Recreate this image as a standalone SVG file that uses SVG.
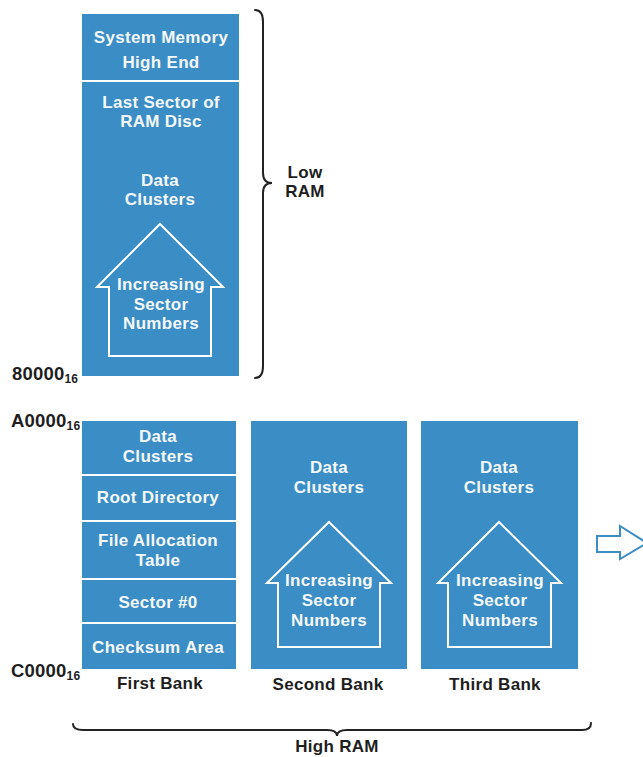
<svg xmlns="http://www.w3.org/2000/svg" width="643" height="757" viewBox="0 0 643 757">
<style>
.blk{fill:#3a8dc5}
.div{stroke:#ffffff;stroke-width:2}
.wt{font-family:"Liberation Sans",Arial,sans-serif;font-weight:bold;font-size:17px;fill:#f4f8fb;text-anchor:middle;letter-spacing:0.3px}
.lb{font-family:"Liberation Sans",Arial,sans-serif;font-weight:bold;font-size:17px;fill:#1e1e1e;text-anchor:middle;letter-spacing:0.3px}
.ad{font-family:"Liberation Sans",Arial,sans-serif;font-weight:bold;font-size:18.5px;fill:#1e1e1e;letter-spacing:0.2px}
.sub{font-size:12px}
.house{fill:none;stroke:#ffffff;stroke-width:2;stroke-linejoin:miter}
.brace{fill:none;stroke:#222222;stroke-width:2;stroke-linecap:round}
</style>
<rect width="643" height="757" fill="#ffffff"/>

<g id="low-ram-column">
<rect class="blk" x="82" y="14" width="157" height="362"/>
<line class="div" x1="82" y1="81" x2="239" y2="81"/>
<text class="wt" x="161" y="43">System Memory</text>
<text class="wt" x="161" y="68">High End</text>
<text class="wt" x="161" y="108">Last Sector of</text>
<text class="wt" x="161" y="127">RAM Disc</text>
<text class="wt" x="160" y="186">Data</text>
<text class="wt" x="160" y="205">Clusters</text>
<polygon class="house" points="160,224 223,287 211,287 211,356 109,356 109,287 97,287"/>
<text class="wt" x="161" y="290">Increasing</text>
<text class="wt" x="161" y="310">Sector</text>
<text class="wt" x="161" y="329">Numbers</text>
</g>

<g id="first-bank">
<rect class="blk" x="82" y="421" width="154" height="248"/>
<line class="div" x1="82" y1="475" x2="236" y2="475"/>
<line class="div" x1="82" y1="521" x2="236" y2="521"/>
<line class="div" x1="82" y1="579" x2="236" y2="579"/>
<line class="div" x1="82" y1="623" x2="236" y2="623"/>
<text class="wt" x="158" y="442">Data</text>
<text class="wt" x="158" y="462">Clusters</text>
<text class="wt" x="158" y="503">Root Directory</text>
<text class="wt" x="158" y="546">File Allocation</text>
<text class="wt" x="158" y="566">Table</text>
<text class="wt" x="158" y="608">Sector #0</text>
<text class="wt" x="158" y="653">Checksum Area</text>
<text class="lb" x="160" y="689">First Bank</text>
</g>

<g id="second-bank">
<rect class="blk" x="251" y="421" width="156" height="248"/>
<text class="wt" x="329" y="473">Data</text>
<text class="wt" x="329" y="493">Clusters</text>
<polygon class="house" points="329,522 391,583 380,583 380,647 278,647 278,583 267,583"/>
<text class="wt" x="329" y="586">Increasing</text>
<text class="wt" x="329" y="606">Sector</text>
<text class="wt" x="329" y="626">Numbers</text>
<text class="lb" x="328" y="690">Second Bank</text>
</g>

<g id="third-bank">
<rect class="blk" x="421" y="421" width="157" height="248"/>
<text class="wt" x="499" y="473">Data</text>
<text class="wt" x="499" y="493">Clusters</text>
<polygon class="house" points="499,522 561,583 551,583 551,647 448,647 448,583 438,583"/>
<text class="wt" x="500" y="586">Increasing</text>
<text class="wt" x="500" y="606">Sector</text>
<text class="wt" x="500" y="626">Numbers</text>
<text class="lb" x="495" y="690">Third Bank</text>
</g>

<g id="addresses">
<text class="ad" x="12" y="380">80000<tspan class="sub" dy="3">16</tspan></text>
<text class="ad" x="11" y="427">A0000<tspan class="sub" dy="3">16</tspan></text>
<text class="ad" x="11" y="677">C0000<tspan class="sub" dy="3">16</tspan></text>
</g>

<g id="connectors">
<path class="brace" d="M255,10 Q263,10 263,22 L263,173 Q263,183 272,183 Q263,183 263,193 L263,366 Q263,378 255,378"/>
<path class="brace" d="M73,724 Q73,730 83,730 L327,730 Q337,730 337,736 Q337,730 347,730 L582,730 Q591,730 591,723"/>
<polygon points="597,536 620,536 620,526 647,543 620,559 620,552 597,552" fill="#ffffff" stroke="#3a8dc5" stroke-width="2"/>
</g>

<g id="brace-labels">
<text class="lb" x="305" y="178">Low</text>
<text class="lb" x="305" y="197">RAM</text>
<text class="lb" x="337" y="752">High RAM</text>
</g>
</svg>
